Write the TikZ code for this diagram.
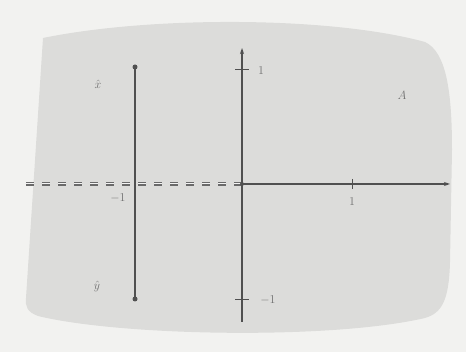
\documentclass[tikz,border=0pt]{standalone}
\usetikzlibrary{arrows.meta}
\definecolor{paper}{HTML}{F2F2F0}
\definecolor{region}{HTML}{DCDCDA}
\definecolor{ink}{HTML}{505050}
\definecolor{txt}{HTML}{707070}
\tikzset{
  axis/.style={draw=ink, line width=1.1pt, -{Stealth[length=6pt,width=4pt]}},
  seg/.style={draw=ink, line width=1.3pt},
  tick/.style={draw=ink, line width=0.8pt},
  dot/.style={circle, fill=ink, inner sep=0pt, minimum size=5pt},
  lab/.style={text=txt, font=\fontsize{13}{15}\selectfont, inner sep=1pt},
  ddash/.style={draw=ink!85, line width=4pt, dash pattern=on 8pt off 8pt,
     postaction={draw=region!30!white, line width=1.0pt, dash pattern=on 8pt off 8pt}}
}
\begin{document}
\begin{tikzpicture}[x=1pt,y=-1pt]
\fill[paper] (0,0) rectangle (466,352);
\useasboundingbox (0,0) rectangle (466,352);
\fill[region] (43,38) .. controls (150,16) and (330,16) .. (425,42)
  .. controls (446,52) and (452,90) .. (452,150)
  -- (450,262) .. controls (449,300) and (442,313) .. (425,318)
  .. controls (330,340) and (120,336) .. (38,316)
  .. controls (27,312) and (25,306) .. (26,298) -- cycle;
% coordinates
\coordinate (O) at (242,184);
\coordinate (xend) at (450,184);
\coordinate (ytop) at (242,48);
\coordinate (ybot) at (242,322);
\coordinate (dstart) at (26,184);
\coordinate (P1) at (135,67);
\coordinate (P2) at (135,299);
\coordinate (tx1a) at (352,179); \coordinate (tx1b) at (352,189);
\coordinate (ty1a) at (235,69); \coordinate (ty1b) at (249,69);
\coordinate (tym1a) at (235,299); \coordinate (tym1b) at (249,299);
% dashed double line
\path[ddash] (dstart) -- (O);
% axes
\draw[axis] (O) -- (xend);
\draw[axis] (ybot) -- (ytop);
\draw[tick] (tx1a) -- (tx1b);
\draw[tick] (ty1a) -- (ty1b);
\draw[tick] (tym1a) -- (tym1b);
% segment
\draw[seg] (P1) -- (P2);
\node[dot] (d1) at (P1) {};
\node[dot] (d2) at (P2) {};
\node[dot, minimum size=4pt] (d0) at (O) {};
% labels
\node[lab] (l1) at (261,71) {$1$};
\node[lab] (lm1y) at (268,300) {$-1$};
\node[lab] (lx1) at (352,202) {$1$};
\node[lab] (lxm1) at (118,198) {$-1$};
\node[lab] (lxh) at (98,84) {$\hat{x}$};
\node[lab] (lyh) at (97,287) {$\hat{y}$};
\node[lab] (lA) at (402,95) {$A$};
\end{tikzpicture}
\end{document}
